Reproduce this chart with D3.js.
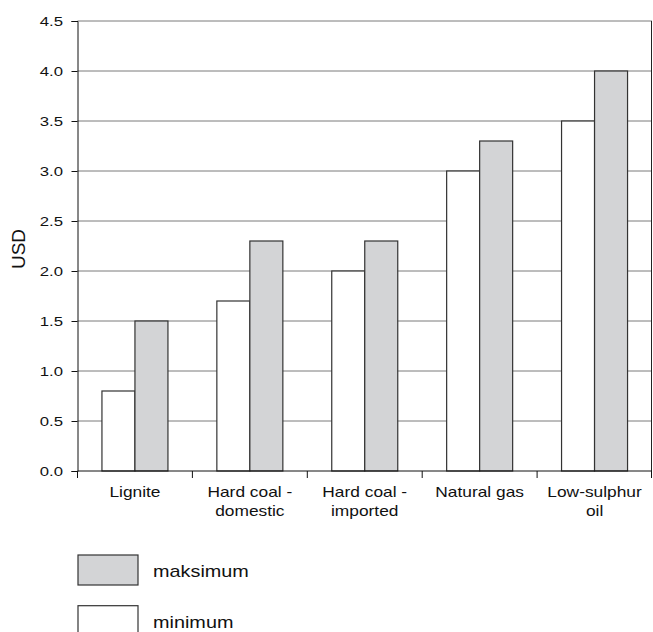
<!DOCTYPE html>
<html>
<head>
<meta charset="utf-8">
<script src="https://cdn.jsdelivr.net/npm/d3@7"></script>
<style>
  body { margin: 0; background: #fff; }
  text { font-family: "Liberation Sans", Arial, sans-serif; fill: #111; }
</style>
</head>
<body>
<svg id="chart" width="653" height="632"></svg>
<script>
  var categories = [["Lignite"], ["Hard coal -", "domestic"], ["Hard coal -", "imported"], ["Natural gas"], ["Low-sulphur", "oil"]];
  var minValues = [0.8, 1.7, 2.0, 3.0, 3.5];
  var maxValues = [1.5, 2.3, 2.3, 3.3, 4.0];
  var yTicks = [0, 0.5, 1, 1.5, 2, 2.5, 3, 3.5, 4, 4.5];
  var seriesNames = ["maksimum", "minimum"];

  var svg = d3.select("#chart");
  // note: "top" is a read-only global in browsers, so plot* names here
  var plotLeft = 77.5, plotRight = 652, plotTop = 21, plotBottom = 471;
  var stretch = 1.24; // the original text is drawn wide

  var x = d3.scaleBand().domain(d3.range(categories.length)).range([plotLeft, plotRight]);
  var inner = d3.scaleBand().domain([0, 1]).range([0, 66]);
  var y = d3.scaleLinear().domain([0, 4.5]).range([plotBottom, plotTop]);

  // grid lines
  svg.append("g").selectAll("line").data(yTicks.slice(1)).enter().append("line")
    .attr("x1", plotLeft).attr("x2", plotRight)
    .attr("y1", function(d){ return y(d); }).attr("y2", function(d){ return y(d); })
    .attr("stroke", "#7a7a7a").attr("stroke-width", 1);

  // right border
  svg.append("line").attr("x1", plotRight - 0.5).attr("x2", plotRight - 0.5)
    .attr("y1", plotTop).attr("y2", plotBottom).attr("stroke", "#222");

  // bars
  var groups = svg.append("g").selectAll("g").data(categories).enter().append("g")
    .attr("transform", function(d, i){ return "translate(" + (x(i) + (x.bandwidth() - 66) / 2) + ",0)"; });

  groups.append("rect")
    .attr("x", inner(0)).attr("width", inner.bandwidth())
    .attr("y", function(d, i){ return y(minValues[i]); })
    .attr("height", function(d, i){ return plotBottom - y(minValues[i]); })
    .attr("fill", "#fff").attr("stroke", "#333").attr("stroke-width", 1.2);

  groups.append("rect")
    .attr("x", inner(1)).attr("width", inner.bandwidth())
    .attr("y", function(d, i){ return y(maxValues[i]); })
    .attr("height", function(d, i){ return plotBottom - y(maxValues[i]); })
    .attr("fill", "#d3d4d6").attr("stroke", "#333").attr("stroke-width", 1.2);

  // y axis
  var yAxis = svg.append("g").attr("transform", "translate(" + plotLeft + ",0)")
    .call(d3.axisLeft(y).tickValues(yTicks).tickFormat(d3.format(".1f")).tickSize(6));
  yAxis.select(".domain").attr("stroke", "#111");
  yAxis.selectAll(".tick line").attr("stroke", "#111");
  yAxis.selectAll("text")
    .attr("x", -14.5 / stretch)
    .attr("transform", "scale(" + stretch + ",1)")
    .style("font-size", "13.5px").style("font-family", "Liberation Sans, Arial, sans-serif").attr("fill", "#111");

  // x axis
  var xAxisG = svg.append("g");
  xAxisG.append("line").attr("x1", plotLeft).attr("x2", plotRight).attr("y1", plotBottom).attr("y2", plotBottom).attr("stroke", "#111");
  xAxisG.selectAll("line.tick").data(d3.range(categories.length + 1)).enter().append("line")
    .attr("class", "tick")
    .attr("x1", function(d){ return d < categories.length ? x(d) : plotRight - 0.5; })
    .attr("x2", function(d){ return d < categories.length ? x(d) : plotRight - 0.5; })
    .attr("y1", plotBottom).attr("y2", plotBottom + 7).attr("stroke", "#111");

  var labels = xAxisG.selectAll("text").data(categories).enter().append("text")
    .attr("text-anchor", "middle")
    .attr("transform", function(d, i){ return "translate(" + (x(i) + x.bandwidth() / 2) + ",497) scale(" + stretch + ",1)"; })
    .style("font-size", "14px");
  labels.selectAll("tspan").data(function(d){ return d; }).enter().append("tspan")
    .attr("x", 0)
    .attr("dy", function(d, j){ return j === 0 ? 0 : 19.5; })
    .text(function(d){ return d; });

  // y label
  svg.append("text").attr("transform", "translate(25,249) rotate(-90)")
    .attr("text-anchor", "middle").style("font-size", "19px").text("USD");

  // legend
  var legendFills = ["#d3d4d6", "#fff"];
  var legend = svg.append("g").selectAll("g").data(seriesNames).enter().append("g")
    .attr("transform", function(d, i){ return "translate(78," + (555 + i * 50.7) + ")"; });
  legend.append("rect").attr("width", 60).attr("height", 30)
    .attr("fill", function(d, i){ return legendFills[i]; })
    .attr("stroke", "#333").attr("stroke-width", 1.2);
  legend.append("text")
    .attr("transform", "translate(75,22) scale(" + stretch + ",1)")
    .style("font-size", "16px").text(function(d){ return d; });
</script>
</body>
</html>
